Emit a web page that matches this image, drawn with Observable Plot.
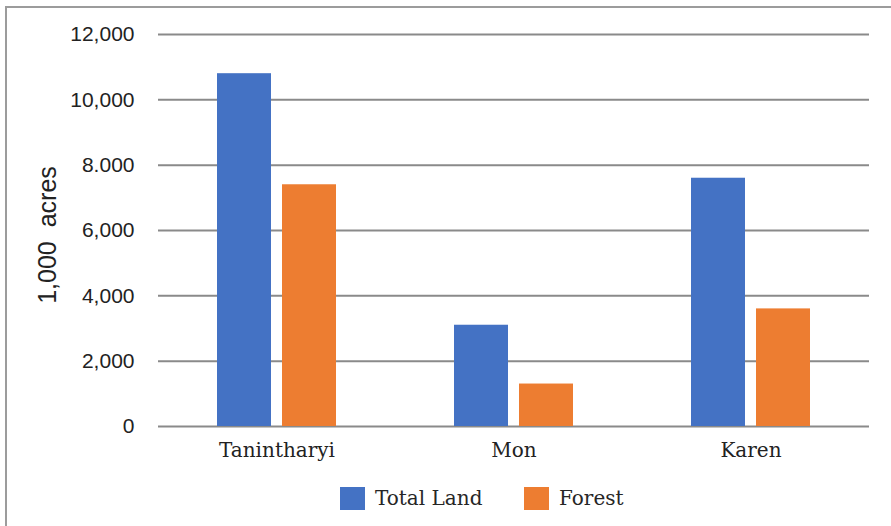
<!DOCTYPE html>
<html>
<head>
<meta charset="utf-8">
<script src="https://cdn.jsdelivr.net/npm/d3@7"></script>
<script src="https://cdn.jsdelivr.net/npm/@observablehq/plot@0.6"></script>
<style>
  html, body { margin: 0; padding: 0; background: #fff; }
  #wrap { position: relative; width: 891px; height: 526px; overflow: hidden; background: #fff; }
  #border { position: absolute; left: 5px; top: 6px; width: 900px; height: 600px; border: 2px solid #9c9c9c; box-sizing: border-box; }
  #chart { position: absolute; left: 0; top: 0; }
  #legend { position: absolute; left: 0; top: 484px; width: 891px; height: 28px; font-family: "DejaVu Serif", serif; font-size: 20px; color: #262626; }
  .item { position: absolute; top: 0; display: flex; align-items: center; height: 28px; }
  .sw { display: inline-block; width: 25px; height: 23px; margin-right: 10px; }
</style>
</head>
<body>
<div id="wrap">
  <div id="border"></div>
  <div id="chart"></div>
  <div id="legend"></div>
</div>
<script>
const regions = ["Tanintharyi", "Mon", "Karen"];
const series = ["Total Land", "Forest"];
const totalLand = [10800, 3100, 7600];
const forest = [7400, 1300, 3600];
const colors = ["#4472C4", "#ED7D31"];
const yTicks = [0, 2000, 4000, 6000, 8000, 10000, 12000];
const yTickLabels = ["0", "2,000", "4,000", "6,000", "8.000", "10,000", "12,000"];
const yLabel = "1,000\u00a0 acres";

const data = [];
regions.forEach((r, i) => {
  data.push({region: r, series: series[0], value: totalLand[i]});
  data.push({region: r, series: series[1], value: forest[i]});
});

const plot = Plot.plot({
  width: 891,
  height: 470,
  marginLeft: 157,
  marginRight: 22,
  marginTop: 34,
  marginBottom: 44,
  style: {background: "transparent", overflow: "visible"},
  fx: {domain: regions, padding: 0, label: null},
  x: {domain: series, paddingInner: 11/66, paddingOuter: 0.886, axis: null},
  y: {domain: [0, 12000], axis: null},
  color: {domain: series, range: colors},
  marks: [
    Plot.gridY(yTicks, {stroke: "#8a8a8a", strokeWidth: 2, strokeOpacity: 1}),
    Plot.barY(data, {fx: "region", x: "series", y: "value", fill: "series"}),
    Plot.axisY(yTicks, {
      tickSize: 0, tickPadding: 24,
      tickFormat: (d) => yTickLabels[yTicks.indexOf(d)],
      fontSize: 21, fill: "#222",
      fontFamily: "'Liberation Sans', Arial, sans-serif",
      label: null
    }),
    Plot.axisFx({
      anchor: "bottom", tickSize: 0, tickPadding: 16,
      fontSize: 20, fill: "#222",
      fontFamily: "'DejaVu Serif', serif",
      label: null
    })
  ]
});
document.getElementById("chart").appendChild(plot);

// y-axis title
const svg = d3.select(plot);
svg.append("text")
  .attr("transform", "translate(47,235) rotate(-90)")
  .attr("text-anchor", "middle")
  .attr("dominant-baseline", "central")
  .attr("font-family", "'Liberation Sans', Arial, sans-serif")
  .attr("font-size", 25)
  .attr("fill", "#222")
  .text(yLabel);

// legend
const legend = document.getElementById("legend");
const lx = [340, 524];
series.forEach((s, i) => {
  const it = document.createElement("div");
  it.className = "item";
  it.style.left = lx[i] + "px";
  const sw = document.createElement("span");
  sw.className = "sw";
  sw.style.background = colors[i];
  it.appendChild(sw);
  it.appendChild(document.createTextNode(s));
  legend.appendChild(it);
});
</script>
</body>
</html>
